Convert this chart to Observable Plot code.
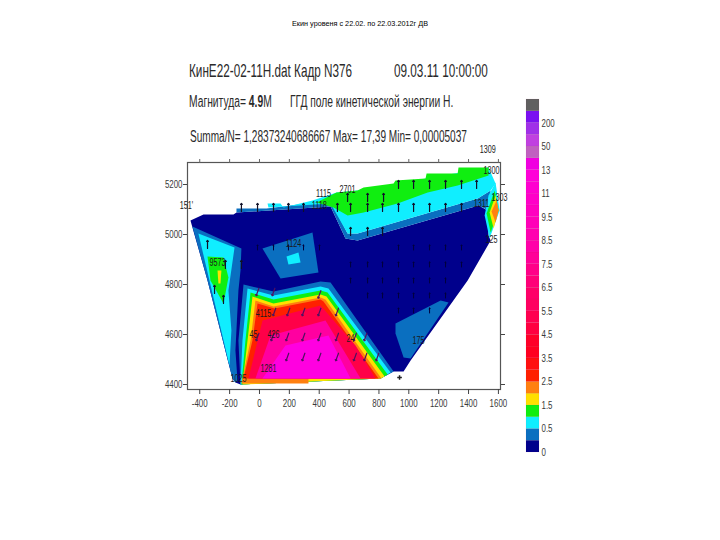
<!DOCTYPE html>
<html><head><meta charset="utf-8">
<style>
html,body{margin:0;padding:0;background:#fff;width:720px;height:540px;overflow:hidden}
#wrap{position:relative;width:720px;height:540px}
#wrap svg{position:absolute;top:0;left:0;overflow:visible}
.t{position:absolute;white-space:nowrap;font-family:"Liberation Sans",Arial,sans-serif;color:#2a2a2a;transform-origin:0 50%;line-height:1}
</style>
<script src="https://cdn.jsdelivr.net/npm/d3@7"></script>
<script src="https://cdn.jsdelivr.net/npm/@observablehq/plot@0.6"></script>
</head><body><div id="wrap"></div>
<script>
const xTicks=[-400,-200,0,200,400,600,800,1000,1200,1400,1600];
const yTicks=[4400,4600,4800,5000,5200];
const NAVY="#00008c",BLUE="#0a6fc0",CYAN="#10eeff",GREEN="#10ee10",YELLOW="#ffe000",ORANGE="#ff8010",RED="#ff2000",CRIM="#ff0048",PINK="#ff00a0",MAG="#ff00e0";

const domainNavy=[[-462,5056],[-375,5080],[-174,5080],[-154,5088],[476,5112],[576,4984],[657,4976],[1467,5116],[1528,5096],[1534,4996],[1548,4976],[1394,4816],[1012,4496],[965,4452],[898,4452],[811,4424],[-127,4400],[-161,4408],[-181,4424],[-348,4816],[-449,5028]];
const topBlue=[[-154,5104],[47,5104],[476,5136],[590,5004],[657,5004],[1461,5144],[1548,5176],[1534,5096],[1467,5116],[657,4976],[576,4984],[476,5112],[-154,5088]];
const topCyan=[[54,5124],[141,5124],[161,5108],[355,5136],[516,5168],[657,5176],[1534,5268],[1581,5204],[1548,5176],[1461,5144],[657,5004],[590,5004],[476,5124],[60,5108]];
const topGreen=[[382,5128],[516,5168],[657,5176],[697,5188],[898,5204],[911,5216],[1112,5224],[1119,5244],[1327,5244],[1333,5268],[1534,5268],[1534,5236],[1327,5196],[1126,5168],[925,5124],[697,5088],[590,5076],[496,5108]];
const wedgeCyan=[[1581,5208],[1608,5096],[1541,4984],[1508,5076],[1534,5156]];
const wedgeGreen=[[1575,5176],[1601,5096],[1548,5008],[1521,5084]];
const wedgeYellow=[[1581,5156],[1601,5096],[1568,5024],[1541,5088]];
const wedgeOrange=[[1588,5136],[1601,5096],[1581,5048],[1554,5092]];
const lobeBlue=[[-449,5032],[-121,4944],[-127,4856],[-141,4776],[-161,4536],[-147,4416],[-161,4408],[-181,4424],[-348,4816]];
const lobeCyan=[[-409,5004],[-167,4948],[-208,4776],[-188,4616],[-201,4476],[-335,4816]];
const lobeGreen=[[-348,4912],[-241,4908],[-208,4828],[-228,4764],[-241,4724],[-328,4816]];
const lobeYellow=[[-281,4856],[-255,4856],[-261,4804],[-275,4804]];
const fanBlue=[[-107,4800],[94,4772],[409,4812],[476,4808],[898,4452],[811,4424],[-127,4400],[-141,4576]];
const fanCyan=[[-80,4784],[94,4756],[409,4792],[462,4784],[878,4448],[811,4424],[-127,4400],[-114,4576]];
const fanGreen=[[-60,4768],[94,4740],[409,4776],[456,4768],[858,4440],[811,4424],[-121,4400],[-94,4576]];
const fanYellow=[[-47,4752],[94,4724],[409,4760],[449,4752],[838,4432],[811,4424],[-114,4400],[-80,4576]];
const fanOrange=[[-27,4736],[94,4712],[409,4748],[442,4740],[817,4424],[328,4424],[328,4404],[-121,4404],[-60,4576]];
const fanRed=[[-13,4724],[100,4704],[409,4740],[429,4732],[797,4424],[-107,4424],[-47,4576]];
const fanCrimson=[[20,4656],[409,4716],[643,4556],[777,4424],[-74,4424],[-20,4556]];
const fanPink=[[74,4596],[442,4656],[677,4424],[-27,4424]];
const fanMagenta=[[174,4556],[462,4596],[610,4424],[20,4424]];
const midBlue=[[20,4944],[355,5008],[395,4848],[141,4824]];
const midCyan=[[181,4912],[261,4928],[275,4888],[194,4880]];
const lowBlue=[[911,4644],[1213,4736],[1266,4728],[1012,4504],[965,4508],[911,4604]];

const layers=[[domainNavy,NAVY],[topBlue,BLUE],[topCyan,CYAN],[topGreen,GREEN],[wedgeCyan,CYAN],[wedgeGreen,GREEN],[wedgeYellow,YELLOW],[wedgeOrange,ORANGE],
[lobeBlue,BLUE],[lobeCyan,CYAN],[lobeGreen,GREEN],[lobeYellow,YELLOW],[fanBlue,BLUE],[fanCyan,CYAN],[fanGreen,GREEN],[fanYellow,YELLOW],[fanOrange,ORANGE],[fanRed,RED],[fanCrimson,CRIM],[fanPink,PINK],[fanMagenta,MAG],[midBlue,BLUE],[midCyan,CYAN],[lowBlue,BLUE]];

const upArrows=[[931,5200],[1032,5200],[1139,5200],[1246,5200],[1353,5200],[1454,5200],[590,5148],[724,5148],[831,5148],[522,5108],[610,5108],[724,5108],[824,5108],[931,5108],[1032,5108],[1139,5108],[1246,5108],[1353,5108],[610,5012],[724,5012],[824,5012],[-121,5108],[-13,5108],[94,5108],[194,5108],[295,5108],[-348,4960],[-228,4880],[-121,4880],[-301,4780],[-241,4740]];
const smallArrows=[[-13,4948],[94,4948],[194,4948],[295,4948],[402,4948],[931,4948],[1032,4948],[1139,4948],[1246,4948],[1353,4948],[610,4880],[724,4880],[824,4880],[931,4880],[1032,4880],[1139,4880],[1246,4880],[1353,4880],[610,4816],[724,4816],[824,4816],[931,4816],[1032,4816],[1139,4816],[1246,4816],[724,4756],[824,4756],[931,4756],[1032,4756],[1139,4756],[1246,4756],[931,4696],[1032,4696],[1139,4696]];
const slantArrows=[[-13,4770],[94,4770],[402,4760],[100,4690],[194,4690],[295,4690],[402,4690],[520,4690],[-13,4590],[87,4590],[187,4590],[295,4590],[402,4590],[520,4590],[187,4510],[295,4510],[402,4510],[520,4510],[640,4590],[710,4590],[640,4510],[710,4510],[790,4510]];
const stationX=[1528,1554,1608,1487,1554,590,429,400,-489,228,-281,27,-40,94,60,-141,610,1065];
const stationY=[5340,5256,5148,5124,4980,5180,5164,5114,5116,4964,4888,4684,4600,4600,4464,4424,4584,4576];
const stationT=["1309","1300","1303","1311","125","2701","1115","1118","151'","1124","9573","4115","45","426","1281","1025","24","175"];
const stations=stationT.map((t,i)=>({t,x:stationX[i],y:stationY[i]}));

const levelColors=[NAVY,BLUE,CYAN,GREEN,YELLOW,ORANGE,RED,"#ff1010","#ff0020","#ff0028","#ff0040","#ff0050","#ff0060","#ff0068","#ff0078","#ff0088","#ff0098","#ff00a8","#ff00b0","#ff00b8","#ff00c0","#ff00c8","#ff00d0","#ff00d8","#f000e0","#c060c0","#c040e0","#a030e8","#7a10f0","#606060"];
const levelTicks=[0,2,4,6,8,10,12,14,16,18,20,22,24,26,28];
const levelLabels=["0","0.5","1.5","2.5","3.5","4.5","5.5","6.5","7.5","8.5","9.5","11","13","50","200"];

const sans='"Liberation Sans",sans-serif';
const main=Plot.plot({
  width:720,height:540,marginLeft:187,marginRight:220,marginTop:162,marginBottom:151,
  style:{background:"transparent",fontFamily:sans,fontSize:"11px",color:"#3a3a3a"},
  x:{domain:[-482,1614]},y:{domain:[4380,5288]},
  marks:[
    ...layers.map(([p,c])=>Plot.line(p,{x:d=>d[0],y:d=>d[1],fill:c,stroke:"none",curve:"linear-closed",clip:true})),
    Plot.vector(smallArrows,{x:d=>d[0],y:d=>d[1],length:5,r:2,rotate:0,anchor:"middle",stroke:"#00003c",strokeWidth:1}),
    Plot.vector(upArrows,{x:d=>d[0],y:d=>d[1],length:8,r:2,rotate:0,anchor:"middle",stroke:"#101028",strokeWidth:1.2}),
    Plot.vector(slantArrows,{x:d=>d[0],y:d=>d[1],length:8,r:2,rotate:200,anchor:"middle",stroke:"#501060",strokeWidth:1.2}),
    Plot.frame({stroke:"#555",strokeWidth:1.2}),
    Plot.axisX({ticks:xTicks,tickSize:5,tickPadding:5,tickFormat:d=>String(d),label:null,stroke:"#444"}),
    Plot.axisX({anchor:"top",ticks:xTicks,tickSize:4,tickFormat:()=>"",label:null,stroke:"#666"}),
    Plot.axisY({ticks:yTicks,tickSize:4,tickPadding:1,tickFormat:d=>String(d),label:null,stroke:"#444"}),
    Plot.axisY({anchor:"right",ticks:yTicks,tickSize:4,tickFormat:()=>"",label:null,stroke:"#444"}),
    Plot.text(stations,{x:"x",y:"y",text:"t",fontSize:10,fill:"#1a1a1a"}),
    Plot.dot([[938,4428]],{x:d=>d[0],y:d=>d[1],symbol:"plus",r:1.6,stroke:"#222"})
  ]
});
const bar=Plot.plot({
  width:720,height:540,marginLeft:526,marginRight:181,marginTop:99,marginBottom:88,
  style:{background:"transparent",fontFamily:sans,fontSize:"11px",color:"#3a3a3a"},
  x:{domain:[0,1],axis:null},y:{domain:[0,30]},
  marks:[
    Plot.rectY(levelColors,{x1:0,x2:1,y1:(d,i)=>i,y2:(d,i)=>i+1,fill:d=>d,stroke:"#800040",strokeOpacity:0.12,strokeWidth:0.5}),
    Plot.axisY({anchor:"right",ticks:levelTicks,tickSize:0,tickPadding:2,tickFormat:d=>levelLabels[levelTicks.indexOf(d)],label:null})
  ]
});
const wrap=document.getElementById("wrap");
wrap.append(main,bar);
for(const t of wrap.querySelectorAll("svg text")){
  const w=t.getComputedTextLength();
  if(w>0){t.setAttribute("textLength",(w*0.72).toFixed(1));t.setAttribute("lengthAdjust","spacingAndGlyphs");}
}
const labels=[
 ["Екин уровеня с 22.02.  по 22.03.2012г ДВ",292,428,24,8,"#000"],
 ["КинЕ22-02-11Н.dat Кадр N376",189,352,70,19],
 ["09.03.11 10:00:00",394,488,70,19],
 ["Магнитуда= <b>4.9</b>М",189,272,102,16],
 ["ГГД поле кинетической энергии Н.",290,453,102,16],
 ["Summa/N= 1,28373240686667 Max= 17,39 Min= 0,00005037",190,467,137,16]
];
for(const [s,x0,x1,yc,fs,c] of labels){
  const e=document.createElement("div");e.className="t";e.innerHTML=s;e.style.fontSize=fs+"px";
  if(c)e.style.color=c;
  e.style.left=x0+"px";e.style.top=(yc-fs/2)+"px";wrap.append(e);
  e.style.transform=`scaleX(${(x1-x0)/e.offsetWidth})`;
}
</script></body></html>
